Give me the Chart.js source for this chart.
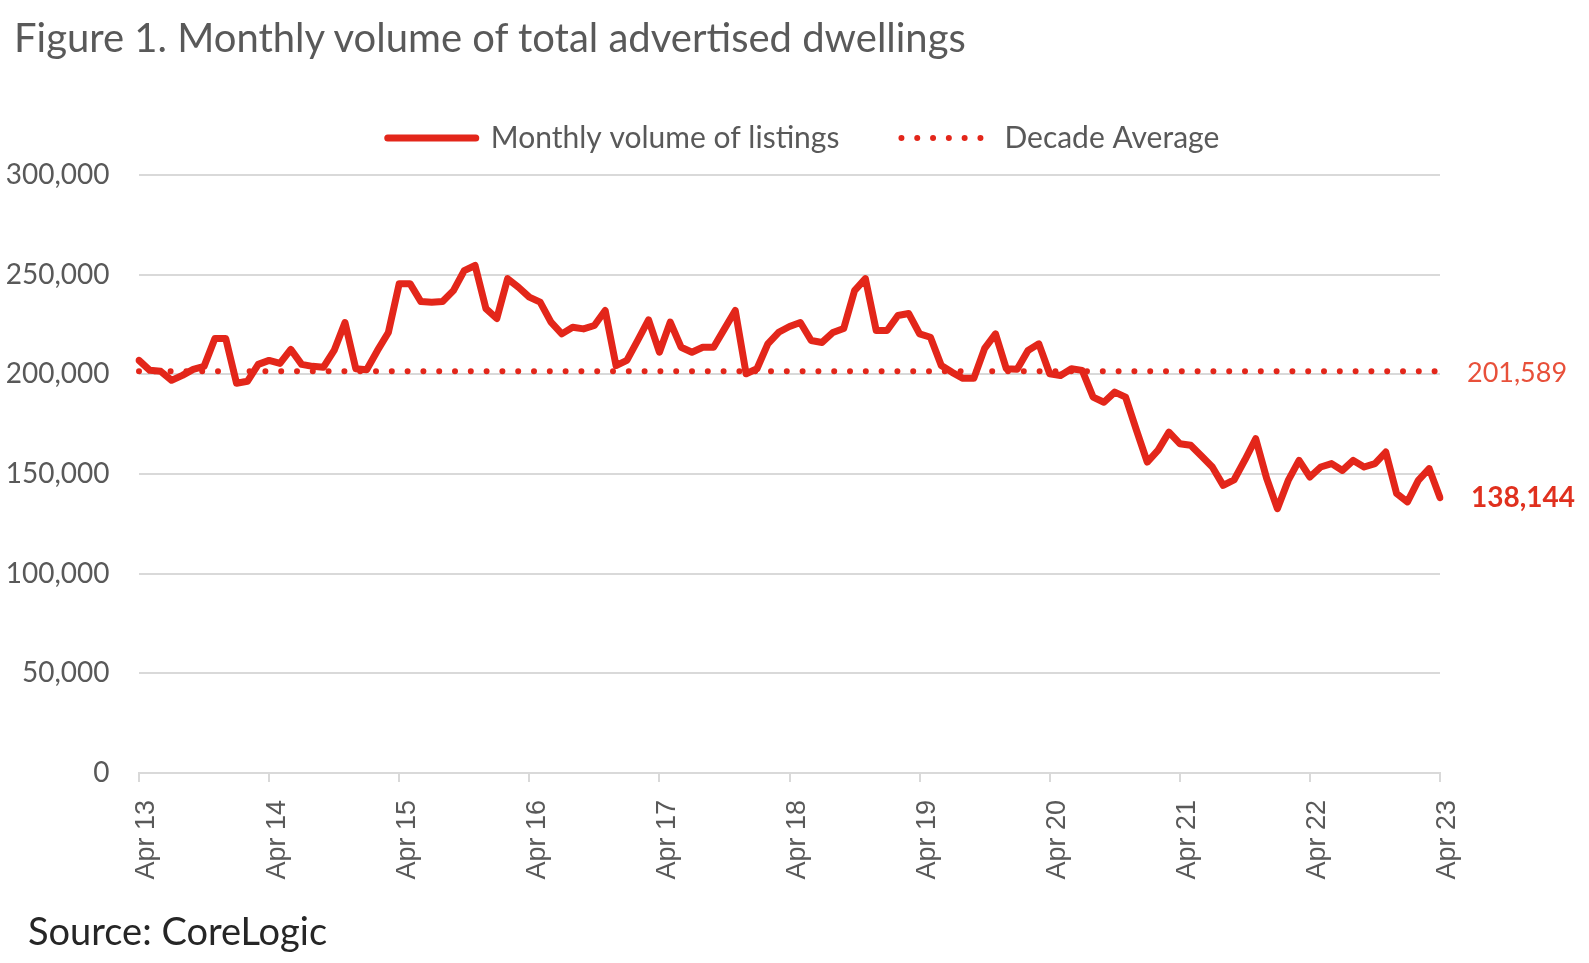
<!DOCTYPE html>
<html>
<head>
<meta charset="utf-8">
<title>Monthly volume of total advertised dwellings</title>
<script src="https://cdn.jsdelivr.net/npm/chart.js@4.4.1/dist/chart.umd.min.js"></script>
<style>
  html, body { margin: 0; padding: 0; background: #fff; }
  #wrap { position: relative; width: 1589px; height: 963px; }
  #wrap h1, #source { position: absolute; margin: 0; font-family: Lato, sans-serif; line-height: 1; }
  #wrap h1 { left: 14px; top: 17px; font-size: 40px; font-weight: normal; color: #595959; }
  #source { left: 28px; top: 911px; font-size: 38px; color: #262626; }
</style>
</head>
<body>
<div id="wrap">
  <canvas id="listingsChart" width="1589" height="963"></canvas>
  <h1>Figure 1. Monthly volume of total advertised dwellings</h1>
  <div id="source">Source: CoreLogic</div>
</div>
<script>
const MONTHS = ['Apr', 'May', 'Jun', 'Jul', 'Aug', 'Sep', 'Oct', 'Nov', 'Dec', 'Jan', 'Feb', 'Mar'];
const tickLabels = ['Apr 13', 'Apr 14', 'Apr 15', 'Apr 16', 'Apr 17', 'Apr 18',
                    'Apr 19', 'Apr 20', 'Apr 21', 'Apr 22', 'Apr 23'];

// monthly listings, one row per year (Apr .. Mar)
const listings = [
    207000, 202000, 201500, 197000, 199500, 202500, 204000, 218000, 218000, 195500, 196500, 205000,
    207000, 205500, 212500, 205000, 204000, 203500, 212000, 226000, 202800, 202300, 212000, 221000,
    245500, 245500, 236500, 236200, 236500, 242000, 252000, 254600, 233000, 228000, 248000, 243700,
    238700, 236200, 226200, 220300, 223600, 222800, 224500, 232000, 204400, 207000, 217000, 227300,
    211100, 226200, 213600, 211100, 213600, 213600, 222800, 232000, 200300, 202800, 215300, 221100,
    224000, 226000, 217000, 216000, 221000, 223000, 242000, 248000, 222000, 222000, 229500, 230500,
    220300, 218600, 204400, 201000, 198000, 198000, 213000, 220300, 202800, 202500, 212000, 215300,
    200300, 199400, 202800, 202000, 188600, 186000, 191100, 188600, 172000, 156000, 162000, 171000,
    165200, 164400, 159000, 153500, 144300, 147000, 157000, 167700, 148000, 132600, 146800, 156800,
    148500, 153500, 155200, 151800, 156800, 153500, 155200, 161000, 140200, 136000, 146800, 152700,
    138144
];
const decadeAverage = 201589;

const RED = '#e3261a';
const GREY = '#595959';
const GRID = '#d9d9d9';

const categories = [];
for (let i = 0; i < listings.length; i++) {
    categories.push(MONTHS[i % 12] + ' ' + (13 + Math.floor((i + 3) / 12)));
}

// more room under the legend, and nudge the legend row to the right
const legendSpacing = {
    id: 'legendSpacing',
    beforeInit(chart) {
        const fit = chart.legend.fit;
        chart.legend.fit = function () {
            fit.bind(chart.legend)();
            this.height += 12;
            if (this.lineWidths) this.lineWidths[0] -= 28;
        };
    }
};

// value labels to the right of the plot
const endLabels = {
    id: 'endLabels',
    afterDatasetsDraw(chart) {
        const { ctx, chartArea, scales: { y } } = chart;
        const last = listings[listings.length - 1];
        ctx.save();
        ctx.textAlign = 'left';
        ctx.textBaseline = 'middle';
        ctx.fillStyle = '#e8503a';
        ctx.font = '27px Lato';
        ctx.fillText(decadeAverage.toLocaleString('en-US'), chartArea.right + 27, y.getPixelForValue(decadeAverage) + 2);
        ctx.fillStyle = '#e0301e';
        ctx.font = 'bold 28px Lato';
        ctx.fillText(last.toLocaleString('en-US'), chartArea.right + 31, y.getPixelForValue(last));
        ctx.restore();
    }
};

new Chart(document.getElementById('listingsChart'), {
    type: 'line',
    data: {
        labels: categories,
        datasets: [{
            label: 'Monthly volume of listings',
            data: listings,
            borderColor: RED,
            borderWidth: 7,
            borderJoinStyle: 'round',
            borderCapStyle: 'round',
            pointRadius: 0,
            tension: 0
        }, {
            label: 'Decade Average',
            data: categories.map(() => decadeAverage),
            borderColor: RED,
            borderWidth: 6,
            borderDash: [0, 15.8],
            borderCapStyle: 'round',
            pointRadius: 0
        }]
    },
    options: {
        responsive: false,
        animation: false,
        devicePixelRatio: 1,
        layout: { padding: { left: 0, right: 149, top: 61, bottom: 0 } },
        plugins: {
            legend: {
                position: 'top',
                fullSize: false,
                labels: {
                    usePointStyle: true,
                    pointStyle: 'line',
                    pointStyleWidth: 88,
                    padding: 62,
                    color: GREY,
                    font: { family: 'Lato', size: 30 },
                    generateLabels(chart) {
                        const items = Chart.defaults.plugins.legend.labels.generateLabels(chart);
                        items.forEach(item => {
                            const ds = chart.data.datasets[item.datasetIndex];
                            item.lineWidth = ds.borderWidth;
                            item.lineDash = ds.borderDash || [];
                            item.lineCap = ds.borderCapStyle;
                            item.strokeStyle = ds.borderColor;
                        });
                        return items;
                    }
                }
            },
            tooltip: { enabled: false }
        },
        scales: {
            x: {
                grid: {
                    drawOnChartArea: false,
                    tickLength: 9,
                    lineWidth: 2,
                    color: ctx => tickLabels.includes(categories[ctx.index]) ? GRID : 'transparent'
                },
                border: { color: GRID, width: 2 },
                ticks: {
                    autoSkip: false,
                    minRotation: 90,
                    maxRotation: 90,
                    padding: 18,
                    labelOffset: 8,
                    color: GREY,
                    font: { family: 'Liberation Sans', size: 27 },
                    callback: function (value) {
                        const label = this.getLabelForValue(value);
                        return tickLabels.includes(label) ? label : '';
                    }
                },
                afterFit(scale) { scale.height = 190; }
            },
            y: {
                min: 0,
                max: 300000,
                grid: { drawTicks: false, color: GRID, lineWidth: 2 },
                border: { display: false },
                ticks: {
                    stepSize: 50000,
                    padding: 29.5,
                    color: GREY,
                    font: { family: 'Lato', size: 28 },
                    callback: v => v.toLocaleString('en-US')
                },
                afterFit(scale) { scale.width = 139; }
            }
        }
    },
    plugins: [legendSpacing, endLabels]
});
</script>
</body>
</html>
